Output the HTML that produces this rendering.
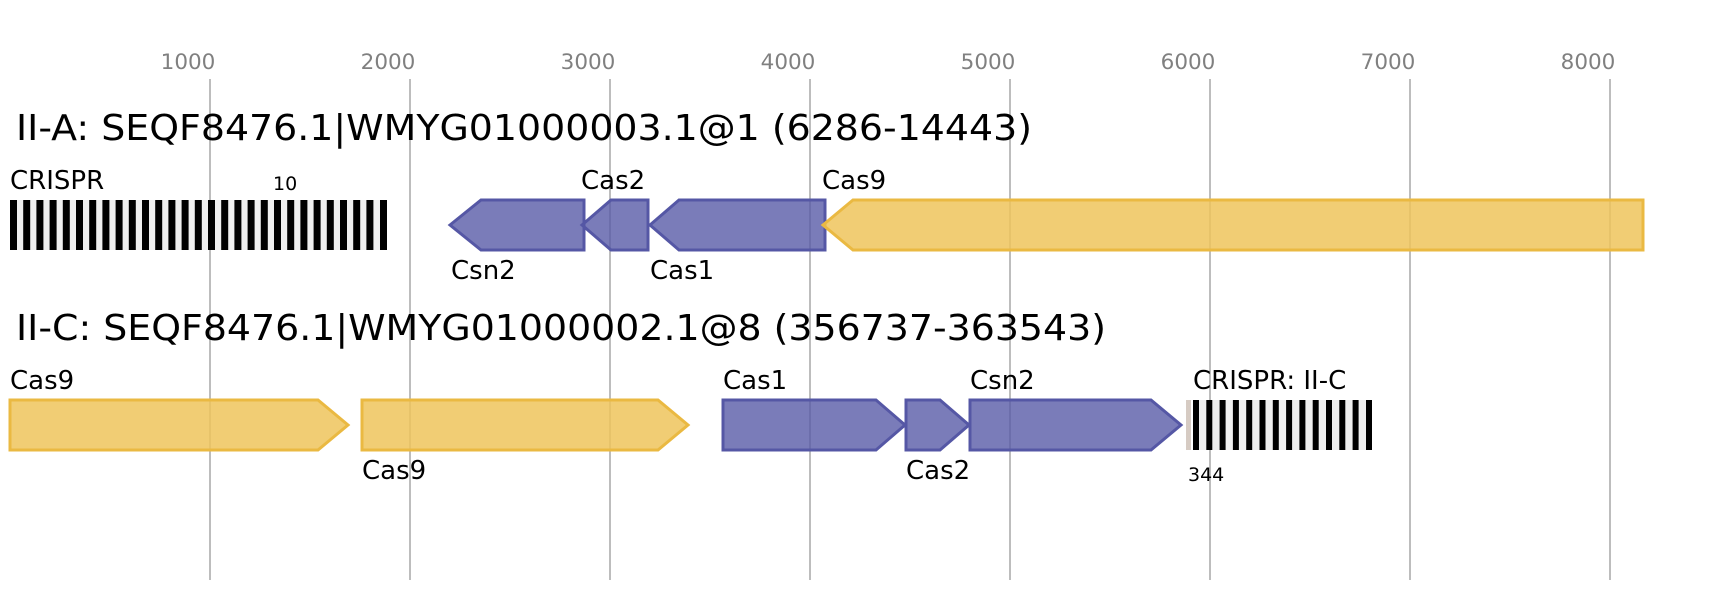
<!DOCTYPE html>
<html><head><meta charset="utf-8"><style>html,body{margin:0;padding:0;background:#fff}svg{display:block}</style></head>
<body>
<svg width="1731" height="600" xmlns="http://www.w3.org/2000/svg" font-family="'DejaVu Sans','Liberation Sans',sans-serif">
<g stroke="#bdbdbd" stroke-width="2">
<line x1="210" y1="79" x2="210" y2="580"/><line x1="410" y1="79" x2="410" y2="580"/><line x1="610" y1="79" x2="610" y2="580"/><line x1="810" y1="79" x2="810" y2="580"/><line x1="1010" y1="79" x2="1010" y2="580"/><line x1="1210" y1="79" x2="1210" y2="580"/><line x1="1410" y1="79" x2="1410" y2="580"/><line x1="1610" y1="79" x2="1610" y2="580"/>
</g>
<g fill="#808080" font-size="21.5" text-anchor="middle">
<text x="188" y="69">1000</text><text x="388" y="69">2000</text><text x="588" y="69">3000</text><text x="788" y="69">4000</text><text x="988" y="69">5000</text><text x="1188" y="69">6000</text><text x="1388" y="69">7000</text><text x="1588" y="69">8000</text>
</g>
<text x="16" y="140" font-size="36" textLength="1016" lengthAdjust="spacingAndGlyphs">II-A: SEQF8476.1|WMYG01000003.1@1 (6286-14443)</text>
<text x="16" y="340" font-size="36" textLength="1090" lengthAdjust="spacingAndGlyphs">II-C: SEQF8476.1|WMYG01000002.1@8 (356737-363543)</text>
<rect x="10" y="200" width="377" height="50" fill="#efefef"/>
<g fill="#000">
<rect x="10" y="200" width="7" height="50"/><rect x="23.2" y="200" width="7" height="50"/><rect x="36.4" y="200" width="7" height="50"/><rect x="49.6" y="200" width="7" height="50"/><rect x="62.8" y="200" width="7" height="50"/><rect x="76" y="200" width="7" height="50"/><rect x="89.2" y="200" width="7" height="50"/><rect x="102.4" y="200" width="7" height="50"/><rect x="115.6" y="200" width="7" height="50"/><rect x="128.8" y="200" width="7" height="50"/><rect x="142" y="200" width="7" height="50"/><rect x="155.2" y="200" width="7" height="50"/><rect x="168.4" y="200" width="7" height="50"/><rect x="181.6" y="200" width="7" height="50"/><rect x="194.8" y="200" width="7" height="50"/><rect x="208" y="200" width="7" height="50"/><rect x="221.2" y="200" width="7" height="50"/><rect x="234.4" y="200" width="7" height="50"/><rect x="247.6" y="200" width="7" height="50"/><rect x="260.8" y="200" width="7" height="50"/><rect x="274" y="200" width="7" height="50"/><rect x="287.2" y="200" width="7" height="50"/><rect x="300.4" y="200" width="7" height="50"/><rect x="313.6" y="200" width="7" height="50"/><rect x="326.8" y="200" width="7" height="50"/><rect x="340" y="200" width="7" height="50"/><rect x="353.2" y="200" width="7" height="50"/><rect x="366.4" y="200" width="7" height="50"/><rect x="380" y="200" width="7" height="50"/>
</g>
<text x="10" y="189" font-size="26">CRISPR</text>
<text x="273" y="190" font-size="19">10</text>
<g stroke="#5557a5" stroke-width="3" fill="#5557a5" fill-opacity="0.78">
<polygon points="450,225 481,200 584,200 584,250 481,250"/>
<polygon points="582,225 611,200 648,200 648,250 611,250"/>
<polygon points="650,225 679,200 825,200 825,250 679,250"/>
</g>
<polygon points="823,225 853,200 1643,200 1643,250 853,250" fill="#efc45c" fill-opacity="0.85" stroke="#eab942" stroke-width="3"/>
<g font-size="26">
<text x="581" y="189">Cas2</text><text x="822" y="189">Cas9</text>
<text x="451" y="279">Csn2</text><text x="650" y="279">Cas1</text>
</g>
<g fill="#efc45c" fill-opacity="0.85" stroke="#eab942" stroke-width="3">
<polygon points="10,400 318,400 348,425 318,450 10,450"/>
<polygon points="362,400 658,400 688,425 658,450 362,450"/>
</g>
<g stroke="#5557a5" stroke-width="3" fill="#5557a5" fill-opacity="0.78">
<polygon points="723,400 876,400 905,425 876,450 723,450"/>
<polygon points="906,400 940,400 969,425 940,450 906,450"/>
<polygon points="970,400 1151,400 1181,425 1151,450 970,450"/>
</g>
<rect x="1186" y="400" width="5" height="50" fill="#d6cbc3"/>
<rect x="1193" y="400" width="179" height="50" fill="#efefef"/>
<g fill="#000">
<rect x="1193" y="400" width="6" height="50"/><rect x="1206.3" y="400" width="6" height="50"/><rect x="1219.6" y="400" width="6" height="50"/><rect x="1232.9" y="400" width="6" height="50"/><rect x="1246.2" y="400" width="6" height="50"/><rect x="1259.5" y="400" width="6" height="50"/><rect x="1272.8" y="400" width="6" height="50"/><rect x="1286.1" y="400" width="6" height="50"/><rect x="1299.4" y="400" width="6" height="50"/><rect x="1312.7" y="400" width="6" height="50"/><rect x="1326" y="400" width="6" height="50"/><rect x="1339.3" y="400" width="6" height="50"/><rect x="1352.6" y="400" width="6" height="50"/><rect x="1366" y="400" width="6" height="50"/>
</g>
<g font-size="26">
<text x="10" y="389">Cas9</text><text x="362" y="479">Cas9</text>
<text x="723" y="389">Cas1</text><text x="906" y="479">Cas2</text>
<text x="970" y="389">Csn2</text><text x="1193" y="389">CRISPR: II-C</text>
</g>
<text x="1188" y="481" font-size="19">344</text>
</svg>
</body></html>
